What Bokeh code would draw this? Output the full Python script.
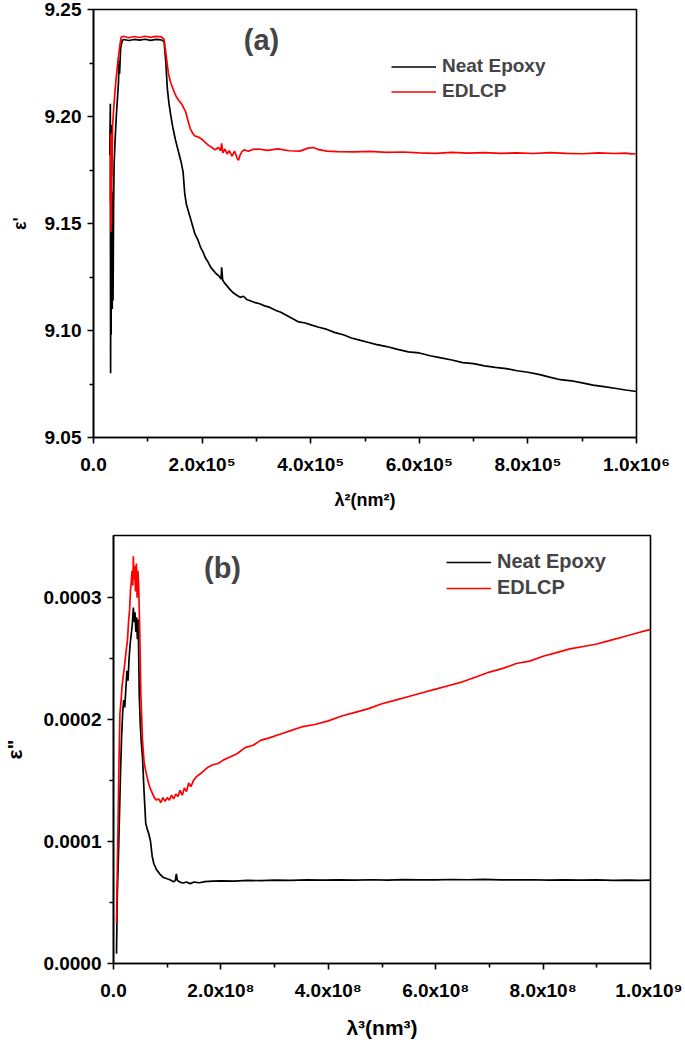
import numpy as np
from bokeh.plotting import figure
from bokeh.models import Range1d, FixedTicker, Legend, LegendItem, Label
from bokeh.embed import file_html
from bokeh.resources import INLINE

FONT = "Liberation Sans"

# ---------------- Panel (a): epsilon' vs lambda^2 (x in units of 1e5 nm^2) ----------------
a_neat_x = [0.300, 0.310, 0.315, 0.320, 0.325, 0.330, 0.335, 0.340, 0.345, 0.350,
            0.360, 0.370, 0.380, 0.400, 0.420, 0.440, 0.460, 0.470, 0.480, 0.500,
            0.530, 0.560, 0.650, 0.750, 0.850, 0.950, 1.050, 1.150, 1.250, 1.300,
            1.330, 1.360, 1.390, 1.420, 1.460, 1.510, 1.550, 1.580, 1.620, 1.650,
            1.680, 1.710, 1.750, 1.790, 1.830, 1.870, 1.920, 1.970, 2.020, 2.060,
            2.110, 2.160, 2.210, 2.260, 2.310, 2.350, 2.360, 2.380, 2.420, 2.470,
            2.520, 2.580, 2.640, 2.700, 2.760, 2.820, 2.900, 2.980, 3.060, 3.150,
            3.250, 3.350, 3.450, 3.560, 3.670, 3.780, 3.900, 4.020, 4.150, 4.300,
            4.450, 4.600, 4.750, 4.900, 5.050, 5.200, 5.400, 5.600, 5.800, 6.000,
            6.200, 6.400, 6.600, 6.800, 7.000, 7.200, 7.400, 7.600, 7.800, 8.000,
            8.200, 8.400, 8.600, 8.800, 9.000, 9.200, 9.400, 9.600, 9.800, 10.00]
a_neat_y = [9.182, 9.206, 9.080, 9.172, 9.098, 9.196, 9.115, 9.165, 9.110, 9.155,
            9.114, 9.158, 9.178, 9.190, 9.200, 9.208, 9.216, 9.226, 9.220, 9.232,
            9.2355, 9.2360, 9.2355, 9.2360, 9.2357, 9.2361, 9.2356, 9.2360, 9.2358, 9.2350,
            9.2260, 9.2130, 9.2060, 9.2010, 9.1950, 9.1890, 9.1850, 9.1820, 9.1780, 9.1740,
            9.1640, 9.1590, 9.1555, 9.1520, 9.1485, 9.1450, 9.1425, 9.1390, 9.1365, 9.1340,
            9.1320, 9.1295, 9.1280, 9.1265, 9.1255, 9.1240, 9.1295, 9.1235, 9.1220, 9.1205,
            9.1190, 9.1175, 9.1165, 9.1155, 9.1160, 9.1145, 9.1138, 9.1130, 9.1125, 9.1115,
            9.1108, 9.1095, 9.1085, 9.1070, 9.1055, 9.1040, 9.1035, 9.1025, 9.1015, 9.1005,
            9.0990, 9.0980, 9.0965, 9.0955, 9.0945, 9.0935, 9.0925, 9.0912, 9.0900, 9.0895,
            9.0882, 9.0872, 9.0862, 9.0850, 9.0845, 9.0835, 9.0828, 9.0822, 9.0812, 9.0805,
            9.0795, 9.0782, 9.0770, 9.0765, 9.0755, 9.0745, 9.0738, 9.0730, 9.0722, 9.0715]

a_edlcp_x = [0.310, 0.318, 0.322, 0.326, 0.330, 0.335, 0.340, 0.350, 0.370, 0.390,
             0.410, 0.430, 0.450, 0.470, 0.490, 0.510, 0.550, 0.650, 0.750, 0.850,
             0.950, 1.050, 1.150, 1.250, 1.300, 1.340, 1.380, 1.420, 1.470, 1.520,
             1.570, 1.620, 1.660, 1.700, 1.740, 1.780, 1.820, 1.860, 1.920, 1.990,
             2.050, 2.120, 2.180, 2.240, 2.300, 2.340, 2.360, 2.380, 2.420, 2.460,
             2.500, 2.550, 2.600, 2.640, 2.670, 2.700, 2.730, 2.780, 2.850, 2.930,
             3.040, 3.200, 3.400, 3.600, 3.800, 3.950, 4.050, 4.150, 4.300, 4.500,
             4.800, 5.100, 5.400, 5.700, 6.000, 6.300, 6.600, 6.900, 7.200, 7.500,
             7.800, 8.100, 8.400, 8.700, 9.000, 9.300, 9.600, 9.800, 9.900, 10.00]
a_edlcp_y = [9.160, 9.192, 9.146, 9.178, 9.150, 9.186, 9.172, 9.195, 9.203, 9.210,
             9.216, 9.221, 9.226, 9.230, 9.234, 9.2370, 9.2375, 9.2368, 9.2374, 9.2369,
             9.2375, 9.2370, 9.2374, 9.2372, 9.2360, 9.2280, 9.2200, 9.2160, 9.2125, 9.2095,
             9.2075, 9.2060, 9.2040, 9.2020, 9.1980, 9.1945, 9.1925, 9.1910, 9.1905, 9.1895,
             9.1880, 9.1865, 9.1855, 9.1845, 9.1855, 9.1840, 9.1875, 9.1830, 9.1848, 9.1825,
             9.1840, 9.1815, 9.1838, 9.1808, 9.1795, 9.1820, 9.1835, 9.1845, 9.1838, 9.1846,
             9.1848, 9.1842, 9.1849, 9.1840, 9.1838, 9.1852, 9.1855, 9.1845, 9.1838, 9.1836,
             9.1835, 9.1837, 9.1832, 9.1834, 9.1830, 9.1828, 9.1832, 9.1829, 9.1831, 9.1828,
             9.1830, 9.1827, 9.1831, 9.1828, 9.1826, 9.1830, 9.1827, 9.1829, 9.1825, 9.1826]

a_xticks = [0, 2e5, 4e5, 6e5, 8e5, 1e6]
a_xtick_labels = ["0.0", "2.0x10\u2075", "4.0x10\u2075", "6.0x10\u2075", "8.0x10\u2075", "1.0x10\u2076"]
a_yticks = [9.05, 9.10, 9.15, 9.20, 9.25]
a_ytick_labels = ["9.05", "9.10", "9.15", "9.20", "9.25"]

# ---------------- Panel (b): epsilon'' vs lambda^3 (x in 1e8 nm^3, y in 1e-4) ----------------
b_neat_x = [0.056, 0.070, 0.090, 0.110, 0.130, 0.150, 0.170, 0.190, 0.210, 0.230,
            0.250, 0.270, 0.290, 0.310, 0.330, 0.350, 0.370, 0.385, 0.400, 0.415,
            0.430, 0.445, 0.460, 0.480, 0.500, 0.520, 0.540, 0.570, 0.600, 0.630,
            0.660, 0.690, 0.720, 0.750, 0.800, 0.860, 0.930, 1.000, 1.060, 1.120,
            1.150, 1.170, 1.190, 1.250, 1.300, 1.360, 1.430, 1.500, 1.600, 1.700,
            1.850, 2.000, 2.250, 2.500, 2.750, 3.000, 3.300, 3.600, 3.900, 4.200,
            4.500, 4.800, 5.100, 5.400, 5.700, 6.000, 6.300, 6.600, 6.900, 7.200,
            7.500, 7.800, 8.100, 8.400, 8.700, 9.000, 9.300, 9.600, 9.800, 10.00]
b_neat_y = [0.08, 0.55, 0.85, 1.20, 1.55, 1.85, 2.05, 2.16, 2.10, 2.25,
            2.40, 2.32, 2.50, 2.62, 2.70, 2.78, 2.92, 2.80, 2.88, 2.72,
            2.84, 2.66, 2.82, 2.20, 1.95, 1.80, 1.69, 1.40, 1.15, 1.10,
            1.06, 1.00, 0.88, 0.82, 0.77, 0.735, 0.705, 0.695, 0.685, 0.670,
            0.680, 0.735, 0.680, 0.665, 0.660, 0.668, 0.655, 0.668, 0.662, 0.672,
            0.675, 0.678, 0.676, 0.682, 0.679, 0.684, 0.681, 0.685, 0.683, 0.686,
            0.684, 0.687, 0.684, 0.688, 0.685, 0.686, 0.689, 0.687, 0.690, 0.686,
            0.685, 0.687, 0.684, 0.686, 0.683, 0.685, 0.682, 0.684, 0.681, 0.683]

b_edlcp_x = [0.056, 0.070, 0.085, 0.100, 0.120, 0.140, 0.160, 0.180, 0.200, 0.220,
             0.240, 0.260, 0.280, 0.300, 0.315, 0.330, 0.345, 0.360, 0.370, 0.380,
             0.395, 0.410, 0.425, 0.440, 0.455, 0.470, 0.490, 0.510, 0.540, 0.570,
             0.600, 0.640, 0.680, 0.720, 0.760, 0.800, 0.840, 0.880, 0.920, 0.960,
             1.000, 1.040, 1.080, 1.120, 1.160, 1.200, 1.240, 1.280, 1.320, 1.360,
             1.400, 1.440, 1.490, 1.540, 1.600, 1.680, 1.760, 1.850, 1.950, 2.050,
             2.150, 2.300, 2.450, 2.600, 2.740, 2.900, 3.100, 3.300, 3.500, 3.750,
             4.000, 4.250, 4.500, 4.750, 5.000, 5.250, 5.500, 5.750, 6.000, 6.250,
             6.500, 6.750, 7.000, 7.250, 7.500, 7.750, 8.000, 8.250, 8.500, 8.750,
             9.000, 9.250, 9.500, 9.750, 10.00]
b_edlcp_y = [0.33, 0.75, 1.15, 1.60, 2.05, 2.15, 2.28, 2.35, 2.42, 2.50,
             2.58, 2.65, 2.80, 2.90, 3.05, 3.12, 3.22, 3.10, 3.34, 3.15,
             3.26, 3.05, 3.28, 3.00, 3.22, 3.08, 2.70, 2.20, 1.83, 1.65,
             1.58, 1.50, 1.44, 1.40, 1.36, 1.34, 1.35, 1.32, 1.36, 1.33,
             1.36, 1.34, 1.38, 1.35, 1.39, 1.37, 1.42, 1.38, 1.44, 1.41,
             1.48, 1.45, 1.50, 1.53, 1.55, 1.58, 1.61, 1.63, 1.64, 1.67,
             1.69, 1.72, 1.77, 1.79, 1.83, 1.85, 1.88, 1.91, 1.94, 1.96,
             1.99, 2.03, 2.06, 2.09, 2.13, 2.16, 2.19, 2.22, 2.25, 2.28,
             2.31, 2.35, 2.39, 2.42, 2.46, 2.48, 2.52, 2.55, 2.58, 2.60,
             2.62, 2.65, 2.68, 2.71, 2.74]

b_xticks = [0, 2e8, 4e8, 6e8, 8e8, 1e9]
b_xtick_labels = ["0.0", "2.0x10\u2078", "4.0x10\u2078", "6.0x10\u2078", "8.0x10\u2078", "1.0x10\u2079"]
b_yticks = [0.0, 0.0001, 0.0002, 0.0003]
b_ytick_labels = ["0.0000", "0.0001", "0.0002", "0.0003"]

series_names = ["Neat Epoxy", "EDLCP"]
series_colors = ["#000000", "#ff0000"]


def midpoints(t):
    t = np.asarray(t, dtype=float)
    return list((t[:-1] + t[1:]) / 2.0)


def style(p, xticks, xlabels, yticks, ylabels, xtitle, ytitle, tick_fs, title_fs,
          x_lab_standoff, x_title_standoff, y_title_standoff):
    p.xgrid.visible = False
    p.ygrid.visible = False
    p.outline_line_color = "black"
    p.outline_line_width = 1.6
    p.outline_line_alpha = 1.0
    p.xaxis.ticker = FixedTicker(ticks=xticks, minor_ticks=midpoints(xticks))
    p.yaxis.ticker = FixedTicker(ticks=yticks, minor_ticks=midpoints(yticks))
    p.xaxis.major_label_overrides = dict(zip(xticks, xlabels))
    p.yaxis.major_label_overrides = dict(zip(yticks, ylabels))
    for ax in (p.xaxis[0], p.yaxis[0]):
        ax.axis_line_width = 1.6
        ax.axis_line_color = "black"
        ax.major_tick_line_width = 1.6
        ax.minor_tick_line_width = 1.6
        ax.major_tick_in = 0
        ax.major_tick_out = 6
        ax.minor_tick_in = 0
        ax.minor_tick_out = 4
        ax.major_label_text_font = FONT
        ax.major_label_text_font_style = "bold"
        ax.major_label_text_font_size = tick_fs
        ax.major_label_text_color = "black"
        ax.axis_label_text_font = FONT
        ax.axis_label_text_font_style = "bold"
        ax.axis_label_text_font_size = title_fs
        ax.axis_label_text_color = "black"
    p.xaxis.axis_label = xtitle
    p.yaxis.axis_label = ytitle
    p.xaxis.major_label_standoff = x_lab_standoff
    p.yaxis.major_label_standoff = 6
    p.xaxis.axis_label_standoff = x_title_standoff
    p.yaxis.axis_label_standoff = y_title_standoff


def add_series(p, xs, ys, legend_loc, fs, glyph_h, spacing):
    items = []
    for x, y, name, color in zip(xs, ys, series_names, series_colors):
        r = p.line(x, y, line_color=color, line_width=1.7)
        items.append(LegendItem(label=name, renderers=[r]))
    leg = Legend(items=items, location=legend_loc, border_line_color=None,
                 background_fill_alpha=0, label_text_font=FONT,
                 label_text_font_style="bold", label_text_font_size=fs,
                 glyph_width=45, glyph_height=glyph_h, label_height=glyph_h,
                 spacing=spacing, padding=0, margin=0, label_standoff=6)
    p.add_layout(leg)


# ---------------- Figure (a) ----------------
p1 = figure(frame_width=543, frame_height=428,
            x_range=Range1d(0, 1e6), y_range=Range1d(9.05, 9.25),
            output_backend="svg", toolbar_location=None,
            min_border_left=93, min_border_right=41, min_border_top=9, min_border_bottom=75)
style(p1, a_xticks, a_xtick_labels, a_yticks, a_ytick_labels,
      "\u03bb\u00b2(nm\u00b2)", "\u03b5'", "19px", "18px", 10, 12, 12)
add_series(p1,
           [np.array(a_neat_x) * 1e5, np.array(a_edlcp_x) * 1e5],
           [a_neat_y, a_edlcp_y],
           (298, 335), "19px", 19, 3)
p1.add_layout(Label(x=168, y=398, x_units="screen", y_units="screen", text="(a)",
                    text_font=FONT, text_font_style="bold", text_font_size="29px",
                    text_align="center", text_baseline="middle"))

# ---------------- Figure (b) ----------------
p2 = figure(frame_width=537, frame_height=428,
            x_range=Range1d(0, 1e9), y_range=Range1d(0, 0.000351),
            output_backend="svg", toolbar_location=None,
            min_border_left=108, min_border_right=32, min_border_top=23, min_border_bottom=78)
style(p2, b_xticks, b_xtick_labels, b_yticks, b_ytick_labels,
      "\u03bb\u00b3(nm\u00b3)", "\u03b5\"", "19px", "21px", 10, 12, 14)
add_series(p2,
           [np.array(b_neat_x) * 1e8, np.array(b_edlcp_x) * 1e8],
           [np.array(b_neat_y) * 1e-4, np.array(b_edlcp_y) * 1e-4],
           (333, 364), "20px", 20, 3)
p2.add_layout(Label(x=109, y=396, x_units="screen", y_units="screen", text="(b)",
                    text_font=FONT, text_font_style="bold", text_font_size="29px",
                    text_align="center", text_baseline="middle"))

open("out.html", "w").write(file_html([p1, p2], INLINE))
